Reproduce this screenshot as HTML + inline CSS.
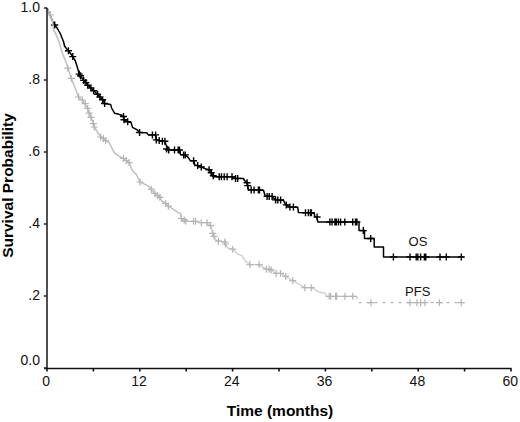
<!DOCTYPE html>
<html><head><meta charset="utf-8"><style>
html,body{margin:0;padding:0;background:#fff;}
body{width:520px;height:422px;overflow:hidden;}
svg{display:block;}
.t{font-family:"Liberation Sans",sans-serif;font-size:14px;fill:#111;}
.s{font-family:"Liberation Sans",sans-serif;font-size:13px;fill:#111;}
.b{font-family:"Liberation Sans",sans-serif;font-size:15.5px;font-weight:bold;fill:#000;}
</style></head><body>
<svg width="520" height="422" viewBox="0 0 520 422">
<rect width="520" height="422" fill="#fff"/>
<path d="M47.0 8.0L48.5 11.0L50.0 15.0L52.5 21.0L53.5 23.0L54.7 25.0L57.0 27.8L58.5 30.5L60.5 34.0L62.0 38.0L63.6 41.7L64.5 46.0L66.0 48.0L68.4 50.8L70.5 53.5L72.8 56.6L75.3 60.9L76.5 64.5L78.0 69.6L79.2 74.1L80.6 75.8L83.7 80.4L85.9 82.6L87.7 85.3L90.9 88.0L93.6 90.7L97.6 94.3L99.9 97.0L102.6 99.8L104.6 103.5L110.7 104.6L111.6 108.0L114.5 113.2L118.3 114.1L121.0 115.0L123.5 116.5L124.0 119.8L127.7 121.7L131.1 122.6L132.5 127.4L137.2 129.8L139.6 132.5L146.7 132.8L148.5 134.9L155.6 134.9L156.3 139.9L159.2 140.6L162.4 141.3L164.9 141.3L165.9 144.5L167.4 147.4L168.7 150.0L179.9 150.0L180.5 154.5L185.3 154.9L188.2 157.4L190.3 160.7L193.6 160.7L194.8 164.9L197.7 165.6L201.3 167.0L206.2 169.1L209.1 169.8L211.2 172.7L213.3 176.8L232.0 176.8L233.5 178.4L243.4 178.4L244.5 180.6L246.3 181.5L247.7 185.6L248.4 189.9L263.5 190.3L265.0 195.6L272.1 196.4L274.2 198.5L275.6 199.9L283.5 200.3L284.9 203.5L286.3 204.9L289.9 207.0L297.7 207.3L298.4 212.5L314.0 213.0L314.8 216.5L317.1 217.0L317.8 222.0L359.0 222.0L359.0 230.6L364.5 230.6L364.5 238.5L374.2 238.5L374.2 247.0L383.5 247.0L383.5 257.0L463.8 257.0" stroke="#000" stroke-width="1.5" fill="none" stroke-linejoin="round"/>
<path d="M54.7 21.5v7.0M51.2 25.0h7.0M68.4 47.3v7.0M64.9 50.8h7.0M72.8 53.1v7.0M69.3 56.6h7.0M79.2 70.6v7.0M75.7 74.1h7.0M80.6 72.3v7.0M77.1 75.8h7.0M83.7 76.9v7.0M80.2 80.4h7.0M85.9 79.1v7.0M82.4 82.6h7.0M87.7 81.8v7.0M84.2 85.3h7.0M90.9 84.5v7.0M87.4 88.0h7.0M93.6 87.2v7.0M90.1 90.7h7.0M97.6 90.8v7.0M94.1 94.3h7.0M99.9 93.5v7.0M96.4 97.0h7.0M102.6 96.3v7.0M99.1 99.8h7.0M104.6 100.0v7.0M101.1 103.5h7.0M123.5 113.0v7.0M120.0 116.5h7.0M124.0 116.3v7.0M120.5 119.8h7.0M127.7 118.2v7.0M124.2 121.7h7.0M139.6 129.0v7.0M136.1 132.5h7.0M152.4 131.4v7.0M148.9 134.9h7.0M155.6 131.4v7.0M152.1 134.9h7.0M156.3 136.4v7.0M152.8 139.9h7.0M159.2 137.1v7.0M155.7 140.6h7.0M162.4 137.8v7.0M158.9 141.3h7.0M164.9 137.8v7.0M161.4 141.3h7.0M166.6 145.5v7.0M163.1 149.0h7.0M168.7 146.5v7.0M165.2 150.0h7.0M174.5 146.5v7.0M171.0 150.0h7.0M178.2 146.5v7.0M174.7 150.0h7.0M179.5 146.5v7.0M176.0 150.0h7.0M183.6 151.4v7.0M180.1 154.9h7.0M185.3 151.4v7.0M181.8 154.9h7.0M193.6 157.2v7.0M190.1 160.7h7.0M197.7 162.1v7.0M194.2 165.6h7.0M201.3 163.5v7.0M197.8 167.0h7.0M209.1 166.3v7.0M205.6 169.8h7.0M211.2 169.2v7.0M207.7 172.7h7.0M213.3 172.3v7.0M209.8 175.8h7.0M219.2 173.3v7.0M215.7 176.8h7.0M221.4 173.3v7.0M217.9 176.8h7.0M224.2 173.3v7.0M220.7 176.8h7.0M227.1 173.3v7.0M223.6 176.8h7.0M232.0 173.3v7.0M228.5 176.8h7.0M235.6 174.9v7.0M232.1 178.4h7.0M237.7 174.9v7.0M234.2 178.4h7.0M247.1 179.3v7.0M243.6 182.8h7.0M247.7 182.1v7.0M244.2 185.6h7.0M251.2 186.4v7.0M247.7 189.9h7.0M254.1 186.4v7.0M250.6 189.9h7.0M258.4 186.4v7.0M254.9 189.9h7.0M259.5 186.4v7.0M256.0 189.9h7.0M267.1 192.9v7.0M263.6 196.4h7.0M269.2 192.9v7.0M265.7 196.4h7.0M272.1 192.9v7.0M268.6 196.4h7.0M275.6 196.4v7.0M272.1 199.9h7.0M277.8 196.4v7.0M274.3 199.9h7.0M280.6 196.4v7.0M277.1 199.9h7.0M286.3 201.4v7.0M282.8 204.9h7.0M289.9 203.5v7.0M286.4 207.0h7.0M293.4 203.5v7.0M289.9 207.0h7.0M305.5 209.2v7.0M302.0 212.7h7.0M308.4 209.2v7.0M304.9 212.7h7.0M310.5 209.2v7.0M307.0 212.7h7.0M311.4 209.3v7.0M307.9 212.8h7.0M317.1 213.5v7.0M313.6 217.0h7.0M329.9 218.5v7.0M326.4 222.0h7.0M332.0 218.5v7.0M328.5 222.0h7.0M334.9 218.5v7.0M331.4 222.0h7.0M336.3 218.5v7.0M332.8 222.0h7.0M338.4 218.5v7.0M334.9 222.0h7.0M340.6 218.5v7.0M337.1 222.0h7.0M344.8 218.5v7.0M341.3 222.0h7.0M352.7 218.5v7.0M349.2 222.0h7.0M355.5 218.5v7.0M352.0 222.0h7.0M356.9 218.5v7.0M353.4 222.0h7.0M363.3 227.1v7.0M359.8 230.6h7.0M370.7 235.0v7.0M367.2 238.5h7.0M393.4 253.5v7.0M389.9 257.0h7.0M410.0 253.5v7.0M406.5 257.0h7.0M416.2 253.5v7.0M412.7 257.0h7.0M417.8 253.5v7.0M414.3 257.0h7.0M420.6 253.5v7.0M417.1 257.0h7.0M424.4 253.5v7.0M420.9 257.0h7.0M425.8 253.5v7.0M422.3 257.0h7.0M440.0 253.5v7.0M436.5 257.0h7.0M446.3 253.5v7.0M442.8 257.0h7.0M461.3 253.5v7.0M457.8 257.0h7.0" stroke="#000" stroke-width="1.4" fill="none"/>
<path d="M47.0 8.0L48.5 11.0L50.0 15.0L52.5 21.0L53.2 27.4L53.5 30.0L55.4 33.0L56.7 36.4L59.2 42.0L60.8 48.0L62.5 53.5L64.5 58.5L66.5 63.5L67.8 68.0L69.9 74.0L71.3 78.4L74.2 85.5L77.0 93.0L78.6 97.0L82.4 100.5L85.3 104.5L87.7 109.0L89.5 113.5L91.2 118.0L93.4 123.6L94.3 127.0L100.6 137.0L103.5 138.5L105.6 140.6L109.2 142.7L114.2 152.7L119.1 156.2L123.4 158.4L126.2 160.5L129.1 162.6L132.0 169.8L134.3 172.8L136.2 174.0L140.0 182.0L147.8 185.6L151.3 189.2L154.9 193.4L157.7 195.6L159.9 197.3L162.0 201.2L165.6 203.4L168.4 206.2L174.1 209.8L178.4 212.6L180.7 213.5L181.4 218.5" stroke="#c0c0c0" stroke-width="1.5" fill="none" stroke-linejoin="round"/>
<path d="M181.4 218.5L184.2 219.9L185.7 221.3L195.6 221.3L201.3 222.7L207.0 222.7L208.4 224.2L210.6 225.6L211.3 227.7L212.7 233.4L214.1 236.3L216.3 240.5L218.4 241.2L224.8 242.0L225.5 244.0L227.8 247.8L228.3 248.3L232.7 249.2L237.8 254.2L242.0 255.6L245.6 261.3L249.9 264.6L259.1 264.6L263.4 267.7L266.3 269.2L271.2 269.9L274.0 272.0L276.2 273.4L280.5 273.4L285.7 276.4L290.0 279.2L292.8 280.6L297.0 282.8L304.9 287.7L311.3 287.7L317.0 290.6L319.1 292.0L325.5 293.4L326.4 296.3L357.0 296.3" stroke="#cdcdcd" stroke-width="1.3" fill="none" stroke-linejoin="round"/>
<path d="M357 296.3V302.7H463.8" stroke="#b8b8b8" stroke-width="1.2" fill="none" stroke-dasharray="3 5"/>
<path d="M50.4 11.5v7.0M46.9 15.0h7.0M67.8 64.7v7.0M64.3 68.2h7.0M71.3 74.9v7.0M67.8 78.4h7.0M78.6 93.5v7.0M75.1 97.0h7.0M82.4 96.5v7.0M78.9 100.0h7.0M85.3 100.2v7.0M81.8 103.7h7.0M87.7 104.9v7.0M84.2 108.4h7.0M89.1 109.7v7.0M85.6 113.2h7.0M91.0 113.9v7.0M87.5 117.4h7.0M93.4 120.1v7.0M89.9 123.6h7.0M94.3 123.5v7.0M90.8 127.0h7.0M100.6 133.5v7.0M97.1 137.0h7.0M103.5 135.0v7.0M100.0 138.5h7.0M105.6 137.1v7.0M102.1 140.6h7.0M123.4 154.9v7.0M119.9 158.4h7.0M126.2 157.0v7.0M122.7 160.5h7.0M129.1 159.1v7.0M125.6 162.6h7.0M140.0 178.5v7.0M136.5 182.0h7.0M151.3 185.7v7.0M147.8 189.2h7.0M154.9 189.9v7.0M151.4 193.4h7.0M157.7 192.1v7.0M154.2 195.6h7.0M159.9 193.8v7.0M156.4 197.3h7.0M165.6 199.9v7.0M162.1 203.4h7.0M168.4 202.7v7.0M164.9 206.2h7.0M181.4 215.0v7.0M177.9 218.5h7.0M184.2 216.4v7.0M180.7 219.9h7.0M185.7 217.8v7.0M182.2 221.3h7.0M193.5 217.8v7.0M190.0 221.3h7.0M195.6 217.8v7.0M192.1 221.3h7.0M201.3 219.2v7.0M197.8 222.7h7.0M207.0 219.2v7.0M203.5 222.7h7.0M210.6 222.1v7.0M207.1 225.6h7.0M212.7 229.9v7.0M209.2 233.4h7.0M214.1 232.8v7.0M210.6 236.3h7.0M218.4 237.7v7.0M214.9 241.2h7.0M224.8 238.5v7.0M221.3 242.0h7.0M225.5 240.5v7.0M222.0 244.0h7.0M232.7 245.7v7.0M229.2 249.2h7.0M249.9 261.1v7.0M246.4 264.6h7.0M259.1 261.1v7.0M255.6 264.6h7.0M266.3 265.7v7.0M262.8 269.2h7.0M269.1 265.7v7.0M265.6 269.2h7.0M271.2 266.4v7.0M267.7 269.9h7.0M276.2 269.9v7.0M272.7 273.4h7.0M280.5 269.9v7.0M277.0 273.4h7.0M285.7 272.9v7.0M282.2 276.4h7.0M292.8 277.1v7.0M289.3 280.6h7.0M304.9 284.2v7.0M301.4 287.7h7.0M311.3 284.2v7.0M307.8 287.7h7.0M329.2 292.8v7.0M325.7 296.3h7.0M330.7 292.8v7.0M327.2 296.3h7.0M335.6 292.8v7.0M332.1 296.3h7.0M336.6 292.8v7.0M333.1 296.3h7.0M344.9 292.8v7.0M341.4 296.3h7.0M352.7 292.8v7.0M349.2 296.3h7.0M371.0 299.2v7.0M367.5 302.7h7.0M410.0 299.2v7.0M406.5 302.7h7.0M416.9 299.2v7.0M413.4 302.7h7.0M420.6 299.2v7.0M417.1 302.7h7.0M425.0 299.2v7.0M421.5 302.7h7.0M439.4 299.2v7.0M435.9 302.7h7.0M461.3 299.2v7.0M457.8 302.7h7.0" stroke="#b4b4b4" stroke-width="1.2" fill="none"/>
<path d="M47 8V368.5" stroke="#222" stroke-width="1.6" fill="none"/>
<path d="M44 368.5H511.5" stroke="#111" stroke-width="1.6" fill="none"/>
<path d="M44 8.0H47M44 80.0H47M44 152.0H47M44 224.0H47M44 296.0H47M44 368.0H47" stroke="#222" stroke-width="1.6" fill="none"/>
<path d="M47.0 368.5V371.5M93.4 368.5V371.5M139.8 368.5V371.5M186.2 368.5V371.5M232.6 368.5V371.5M279.0 368.5V371.5M325.4 368.5V371.5M371.8 368.5V371.5M418.2 368.5V371.5M464.6 368.5V371.5M511.0 368.5V371.5" stroke="#111" stroke-width="1.6" fill="none"/>
<text x="40" y="11.6" text-anchor="end" class="t">1.0</text>
<text x="40" y="83.6" text-anchor="end" class="t">.8</text>
<text x="40" y="155.6" text-anchor="end" class="t">.6</text>
<text x="40" y="227.6" text-anchor="end" class="t">.4</text>
<text x="40" y="299.6" text-anchor="end" class="t">.2</text>
<text x="40" y="365.4" text-anchor="end" class="t">0.0</text>
<text x="46.2" y="385.8" text-anchor="middle" class="t">0</text>
<text x="139.0" y="385.8" text-anchor="middle" class="t">12</text>
<text x="231.8" y="385.8" text-anchor="middle" class="t">24</text>
<text x="324.6" y="385.8" text-anchor="middle" class="t">36</text>
<text x="417.4" y="385.8" text-anchor="middle" class="t">48</text>
<text x="510.2" y="385.8" text-anchor="middle" class="t">60</text>
<text x="280" y="416.3" text-anchor="middle" class="b">Time (months)</text>
<text transform="translate(12.6 185.5) rotate(-90)" x="0" y="0" text-anchor="middle" class="b">Survival Probability</text>
<text x="418" y="245.6" text-anchor="middle" class="s">OS</text>
<text x="417.7" y="295.8" text-anchor="middle" class="s">PFS</text>
</svg>
</body></html>
